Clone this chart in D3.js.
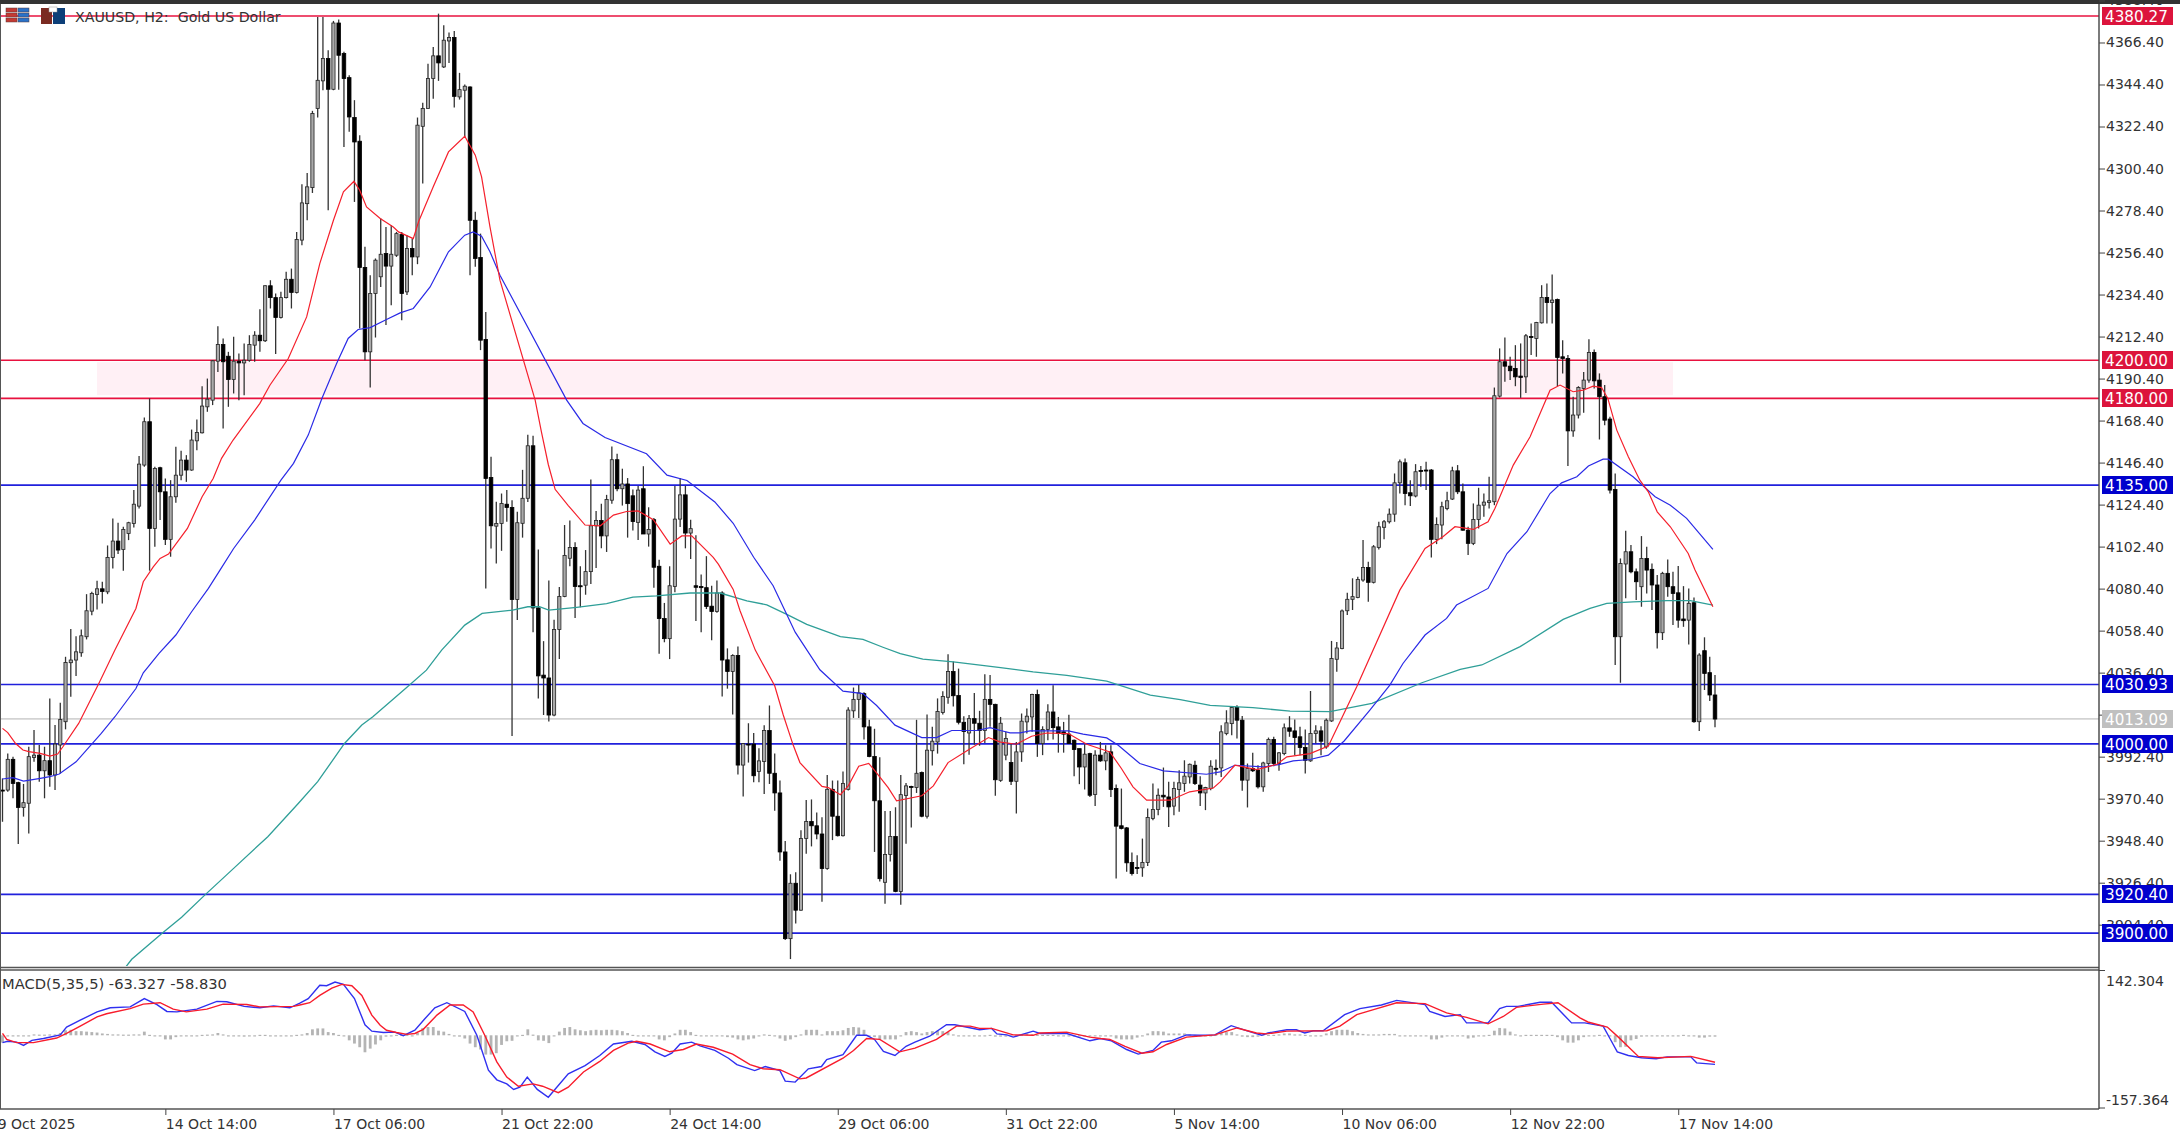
<!DOCTYPE html>
<html><head><meta charset="utf-8">
<script src="https://cdn.jsdelivr.net/npm/d3@7/dist/d3.min.js"></script>
<style>
html,body{margin:0;padding:0;background:#fff}
svg{display:block}
text{font-family:"DejaVu Sans",sans-serif;font-size:14px;fill:#333}
</style></head><body>
<svg id="c" width="2180" height="1139"></svg>
<script>
const symbolTitle="XAUUSD, H2:  Gold US Dollar";
const macdTitle="MACD(5,35,5) -63.327 -58.830";

const opens=[
3974.9,3974.9,3991.0,3978.8,3965.8,3968.0,3992.0,3993.2,3985.0,3990.3,
3982.8,3998.5,4010.7,4041.6,4043.0,4046.8,4055.2,4068.6,4077.3,4080.3,
4078.7,4096.7,4105.3,4100.9,4109.3,4114.5,4123.6,4145.1,4167.8,4111.9,
4143.7,4131.1,4106.2,4128.5,4139.8,4147.7,4142.5,4157.8,4162.0,4175.6,
4179.1,4199.5,4208.2,4202.1,4189.9,4199.5,4198.6,4200.0,4207.9,4213.1,
4210.2,4239.0,4232.8,4222.4,4232.8,4242.4,4235.5,4262.9,4282.0,4290.4,
4331.8,4346.3,4358.0,4341.9,4376.6,4360.6,4348.0,4327.1,4314.7,4248.6,
4204.4,4234.9,4243.7,4255.9,4249.3,4255.0,4265.8,4235.8,4258.5,4254.1,
4322.5,4331.8,4347.5,4359.4,4353.6,4367.2,4369.0,4337.9,4341.4,4343.1,
4273.3,4253.8,4210.9,4138.6,4113.1,4114.5,4124.6,4122.9,4074.7,4114.6,
4127.7,4155.2,4070.3,4035.1,4033.6,4014.2,4059.0,4076.3,4096.3,4101.9,
4081.9,4082.2,4089.3,4113.3,4116.1,4108.0,4126.7,4147.9,4132.7,4135.2,
4129.0,4115.1,4132.7,4109.0,4116.5,4092.1,4064.7,4054.2,4081.5,4116.8,
4129.5,4109.5,4081.9,4081.5,4080.9,4071.2,4068.4,4078.1,4043.1,4037.0,
4045.4,3988.0,3999.0,3999.0,3984.6,3989.9,4006.1,3983.7,3973.4,3942.5,
3897.1,3926.1,3912.0,3949.5,3958.4,3956.2,3951.9,3933.8,3975.3,3961.2,
3951.0,3975.3,4016.4,4022.4,4025.4,4008.0,3992.5,3969.3,3926.6,3941.2,
3950.6,3921.8,3972.1,3976.8,3976.2,3984.1,3961.2,3995.5,4000.1,4015.5,
4023.5,4037.0,4024.4,4010.4,4004.8,4012.3,4009.9,4006.1,4022.4,4019.8,
3980.0,3993.2,3989.3,3979.5,3994.9,4010.6,4013.2,4024.9,3999.3,4006.6,
4015.8,4008.0,4005.4,4004.2,4001.0,3996.6,3987.0,3994.0,3972.6,3993.2,
3990.2,3994.9,3975.7,3956.2,3955.1,3937.0,3934.4,3934.2,3937.0,3960.0,
3964.7,3972.2,3971.3,3966.5,3975.2,3978.3,3981.8,3987.9,3977.5,3973.4,
3975.7,3986.3,3986.5,4004.5,4009.7,4018.1,4011.5,3980.1,3986.2,3985.3,
3976.6,3988.8,4001.4,3988.8,3994.0,4007.5,4005.9,4002.8,3997.2,3990.2,
4004.5,4005.9,3997.5,4011.1,4043.4,4049.0,4068.8,4074.8,4075.8,4084.9,
4091.5,4083.7,4102.0,4112.5,4115.4,4119.4,4135.8,4146.3,4130.6,4128.9,
4142.3,4142.5,4142.5,4106.2,4113.7,4122.4,4127.3,4142.1,4131.1,4111.0,
4104.1,4116.6,4124.1,4125.5,4125.9,4181.2,4199.2,4196.9,4195.7,4191.7,
4191.3,4212.4,4211.4,4219.6,4232.9,4230.2,4231.8,4201.8,4200.9,4163.0,
4171.3,4185.2,4189.6,4204.1,4189.6,4180.9,4169.2,4132.3,4055.2,4093.3,
4099.7,4089.2,4081.4,4096.2,4090.5,4082.3,4057.3,4088.4,4081.4,4078.2,
4064.5,4063.9,4073.0,4010.7,4047.9,4036.4,4024.7];
const highs=[
3981.0,3994.1,3992.4,3979.3,3978.1,3997.6,4006.3,3998.5,3997.6,4022.9,
4009.0,4020.6,4044.7,4059.2,4055.5,4059.0,4077.5,4078.7,4084.5,4084.0,
4103.0,4117.1,4114.9,4112.8,4115.4,4132.0,4149.8,4170.0,4180.0,4144.2,
4144.2,4138.1,4137.2,4154.7,4152.6,4150.3,4163.7,4169.0,4186.4,4190.4,
4200.0,4217.8,4211.4,4204.4,4212.3,4203.5,4208.8,4213.1,4215.2,4226.7,
4239.3,4241.9,4234.9,4235.8,4246.3,4248.0,4267.2,4292.2,4298.1,4330.6,
4379.8,4379.8,4362.3,4377.7,4378.4,4361.5,4349.2,4336.2,4317.8,4259.4,
4244.5,4253.3,4274.2,4269.8,4270.7,4267.2,4267.2,4265.5,4263.7,4327.1,
4334.8,4355.3,4364.1,4381.5,4375.4,4371.6,4372.4,4350.5,4344.4,4343.5,
4277.7,4266.3,4225.3,4149.4,4125.9,4130.2,4132.0,4126.7,4120.6,4142.6,
4161.0,4160.4,4100.9,4052.9,4084.7,4064.1,4081.3,4113.7,4116.1,4104.7,
4092.1,4100.6,4137.6,4121.1,4124.9,4129.5,4154.8,4151.0,4143.2,4138.3,
4132.3,4134.2,4144.5,4123.0,4117.4,4095.5,4072.9,4092.1,4134.2,4138.3,
4134.2,4116.5,4108.4,4087.8,4097.4,4081.9,4084.7,4079.0,4049.1,4046.0,
4050.1,3999.6,4009.9,4004.8,3996.8,4008.9,4019.2,3994.0,3979.9,3948.2,
3930.8,3931.9,3953.8,3969.7,3970.0,3963.1,3960.7,3982.8,3979.9,3979.9,
3984.6,4018.3,4028.6,4029.9,4026.1,4011.7,4007.0,3992.1,3964.0,3964.0,
3965.9,3982.8,3978.6,3977.1,4011.7,3984.6,4014.5,4008.0,4022.9,4026.7,
4046.0,4042.2,4038.5,4013.6,4014.2,4025.8,4016.4,4035.5,4035.1,4020.1,
4013.2,4005.4,3999.6,4000.1,4015.0,4017.6,4025.4,4027.5,4008.3,4019.9,
4029.8,4013.2,4010.6,4014.4,4001.4,3996.6,3998.9,3994.4,3995.8,4000.1,
3998.4,3998.4,3977.8,3975.7,3955.6,3942.2,3940.8,3949.5,3965.2,3978.3,
3975.7,3986.7,3979.2,3979.2,3985.3,3990.5,3988.8,3990.2,3982.2,3976.6,
3990.5,3990.9,4008.9,4016.7,4018.8,4019.3,4013.7,3988.8,3994.4,3987.9,
3989.7,4002.4,4002.8,3994.9,4009.7,4013.6,4011.8,4008.0,4006.6,4026.8,
4008.9,4008.3,4012.4,4053.0,4052.5,4069.4,4078.2,4085.8,4086.6,4105.8,
4094.5,4103.2,4115.4,4116.3,4122.4,4140.7,4148.0,4148.6,4137.2,4145.6,
4144.6,4146.8,4143.0,4117.7,4125.9,4131.1,4144.2,4145.1,4135.5,4112.8,
4125.0,4133.2,4130.2,4139.0,4185.7,4206.2,4211.9,4201.8,4207.9,4208.8,
4213.7,4219.2,4220.1,4239.3,4240.2,4244.9,4232.3,4210.5,4202.7,4180.9,
4186.4,4193.9,4211.0,4205.6,4193.1,4187.0,4170.4,4140.7,4096.2,4110.7,
4103.2,4091.0,4107.9,4102.3,4093.6,4087.5,4089.2,4095.7,4089.2,4092.2,
4081.7,4080.5,4075.8,4046.5,4054.9,4044.7,4035.1];
const lows=[
3958.3,3974.0,3970.6,3946.6,3961.0,3952.2,3989.7,3979.3,3970.6,3976.7,
3974.9,3983.6,4006.7,4023.8,4034.6,4044.7,4053.8,4066.5,4069.5,4072.6,
4077.5,4091.0,4098.5,4089.7,4105.8,4112.4,4122.4,4144.2,4089.8,4102.3,
4116.3,4103.2,4097.1,4125.4,4137.2,4136.3,4142.1,4152.9,4161.6,4173.0,
4176.5,4193.9,4164.3,4175.6,4182.6,4179.1,4181.7,4199.2,4199.2,4204.4,
4209.6,4227.1,4203.2,4221.9,4232.3,4227.1,4235.0,4260.2,4273.3,4287.6,
4327.1,4341.4,4278.6,4341.4,4341.7,4311.7,4319.6,4282.9,4216.6,4200.0,
4185.7,4211.9,4238.4,4218.4,4228.8,4254.1,4221.0,4234.1,4244.5,4250.3,
4292.5,4331.8,4337.0,4346.3,4353.1,4355.7,4332.3,4336.5,4317.0,4244.5,
4248.9,4205.3,4080.5,4101.4,4093.6,4100.2,4115.4,4003.2,4063.9,4107.1,
4125.8,4057.6,4022.9,4014.2,4010.8,4013.6,4043.5,4075.9,4092.1,4065.0,
4070.6,4077.2,4082.8,4091.2,4101.5,4099.6,4124.9,4131.4,4123.9,4107.1,
4110.8,4105.8,4109.0,4102.4,4080.9,4046.3,4052.3,4043.5,4078.5,4112.7,
4101.5,4095.9,4063.5,4057.6,4069.7,4053.4,4067.8,4023.9,4028.0,4014.5,
3983.1,3971.5,3989.3,3979.0,3979.0,3972.8,3978.1,3964.1,3937.9,3896.4,
3886.4,3905.0,3911.7,3941.6,3945.4,3949.1,3916.4,3933.2,3948.7,3950.6,
3950.6,3974.7,4012.7,4012.7,4001.4,3992.1,3942.5,3927.0,3915.4,3937.5,
3921.4,3914.9,3946.8,3955.3,3973.4,3960.7,3960.0,3987.8,3994.0,4014.5,
4020.1,4018.7,4009.3,3988.4,3993.4,3998.6,3998.1,3999.6,4008.0,3971.9,
3979.2,3990.5,3977.5,3962.6,3989.7,4004.5,4005.4,3992.3,3993.2,4001.0,
4001.4,3994.5,3994.5,3999.3,3982.2,3978.0,3975.2,3971.3,3966.5,3989.7,
3985.3,3971.3,3928.6,3954.3,3932.1,3930.2,3930.9,3929.5,3935.2,3959.1,
3961.7,3966.1,3955.6,3961.7,3963.5,3974.0,3978.3,3977.5,3966.5,3964.4,
3974.8,3982.7,3981.8,4003.6,4003.6,4001.9,3974.5,3965.8,3984.4,3975.7,
3974.0,3984.4,3987.4,3985.0,3993.2,4002.8,3993.2,3993.2,3983.6,3989.7,
3999.3,3993.2,3996.6,4010.6,4036.8,4048.6,4066.6,4069.2,4075.3,4084.0,
4073.5,4083.1,4100.9,4106.2,4114.5,4115.4,4130.2,4124.1,4123.6,4128.2,
4133.7,4132.0,4096.7,4103.7,4106.2,4121.5,4126.8,4129.9,4110.7,4098.0,
4103.2,4111.9,4118.0,4122.4,4124.1,4180.5,4188.7,4189.6,4186.4,4180.3,
4182.9,4202.7,4201.8,4219.2,4219.2,4219.2,4186.4,4193.1,4144.6,4159.9,
4169.5,4172.5,4188.2,4185.2,4158.5,4166.0,4130.2,4040.4,4031.1,4075.3,
4088.4,4074.4,4070.9,4077.9,4069.2,4049.1,4053.5,4076.2,4061.3,4059.9,
4060.4,4051.2,4010.2,4005.8,4027.3,4021.5,4007.8];
const closes=[
3974.6,3991.0,3978.4,3965.8,3968.3,3992.4,3993.2,3985.0,3990.3,3982.8,
3999.0,4011.9,4041.7,4043.0,4047.3,4055.7,4068.8,4077.9,4080.3,4078.9,
4096.7,4105.3,4100.6,4111.4,4114.9,4124.6,4145.6,4167.8,4111.9,4143.3,
4131.1,4106.2,4128.5,4139.8,4147.7,4142.5,4158.2,4162.2,4176.0,4179.6,
4199.7,4208.2,4199.2,4189.9,4199.5,4198.6,4200.0,4208.2,4213.1,4210.2,
4239.0,4232.8,4222.4,4232.8,4242.4,4235.5,4263.2,4282.4,4290.8,4329.2,
4346.6,4358.0,4341.9,4376.6,4359.7,4347.5,4327.4,4314.3,4248.6,4204.4,
4234.9,4252.4,4255.5,4249.3,4255.5,4266.3,4234.9,4258.5,4254.1,4323.1,
4331.8,4347.5,4359.4,4355.7,4367.6,4369.0,4338.2,4341.7,4343.5,4273.3,
4253.3,4210.5,4138.1,4113.3,4114.5,4125.0,4122.9,4074.7,4114.9,4127.7,
4155.2,4070.3,4034.7,4033.6,4014.2,4059.0,4076.3,4097.8,4101.9,4081.5,
4081.5,4089.3,4113.3,4116.1,4108.0,4127.1,4147.9,4132.7,4135.2,4124.9,
4115.5,4132.0,4109.0,4111.4,4091.6,4064.7,4054.2,4081.9,4116.8,4129.5,
4109.5,4111.8,4081.1,4080.9,4071.0,4068.4,4078.1,4043.0,4037.0,4045.4,
3988.0,3999.2,3998.7,3982.4,3990.2,4006.1,3983.7,3973.4,3942.5,3897.1,
3926.1,3912.0,3949.5,3958.4,3956.2,3951.9,3933.8,3975.3,3961.2,3951.0,
3978.4,4016.8,4022.4,4025.8,4008.0,3992.5,3969.3,3928.5,3941.2,3950.6,
3921.8,3972.5,3977.1,3976.6,3983.7,3961.2,3995.8,4000.5,4016.0,4023.9,
4037.0,4024.3,4010.4,4005.6,4012.3,4009.9,4006.1,4022.4,4019.8,3980.3,
4009.9,4001.9,3979.5,3994.9,4011.0,4013.6,4024.9,3999.3,4006.6,4015.8,
4007.6,4004.5,4004.2,3999.3,3996.1,3987.0,3993.7,3972.2,3993.2,3990.2,
3994.4,3975.2,3956.0,3954.8,3936.8,3931.2,3933.8,3937.0,3960.5,3964.7,
3972.2,3971.3,3966.1,3975.7,3978.7,3982.2,3988.4,3978.3,3973.4,3976.2,
3987.4,3986.0,4005.4,4010.1,4018.1,4011.5,3980.1,3986.2,3985.0,3976.6,
3989.1,4001.4,3988.8,3994.4,4007.5,4005.7,4002.4,3997.2,3990.5,4004.5,
4005.9,4000.5,4011.5,4043.8,4049.3,4068.7,4074.8,4076.2,4085.2,4091.5,
4083.7,4102.3,4112.8,4115.4,4119.4,4135.8,4146.8,4130.2,4129.0,4141.6,
4141.8,4142.3,4106.2,4114.0,4123.3,4126.4,4142.1,4131.1,4111.0,4104.1,
4116.6,4124.1,4125.7,4126.4,4181.4,4199.2,4196.9,4194.5,4191.3,4191.0,
4212.8,4211.9,4219.8,4232.9,4230.2,4231.5,4201.4,4200.9,4163.0,4171.3,
4185.7,4189.6,4204.1,4189.2,4180.9,4168.6,4132.0,4055.2,4093.6,4099.7,
4089.2,4084.0,4096.2,4090.1,4082.3,4057.3,4088.4,4081.4,4077.9,4063.9,
4063.6,4072.7,4010.7,4045.6,4036.0,4024.7,4012.1];

const redIdx=[0,1,2.5,3.9,5,7.2,9,10.5,11.5,14.5,18.5,21.4,25.4,26.8,28.7,30,31.6,35.2,38,40.1,41.7,43.9,49,50.9,54.4,57.9,60.4,63,64.9,66.9,68,69.3,71.9,74.4,75.4,78.2,79.2,82,84.9,88,90,91.2,92.8,94.7,101.4,102.6,103.9,105.2,107.7,110.9,113.8,116.3,118.8,121,123.9,127.1,129.3,131.2,135.3,136.3,139.1,140.4,143.3,147,148.6,150.5,151.8,156,157.2,159.5,161,163,164.9,166.2,168.6,170.2,175,177.2,180,183.6,187.7,190,193,195.9,198.8,202.9,206.4,210.8,213,215.2,217.8,222.3,226,230.5,231.8,234.6,238.8,242.6,244.5,248.9,252.4,257.8,266,270.8,274.2,276.5,280,282.8,284.1,287.6,290.8,294.6,296.5,299,300.9,302.8,304.4,305.6,307.3,309.5,311.7,313.3,315,317.5,320.9,322.2,325.6];
const redVal=[4007.2,4005,3999.3,3995.9,3995,3994.1,3992.7,3993.8,3997.6,4009.8,4031.6,4048.2,4070,4084,4091.8,4096.2,4098.5,4111.9,4128.5,4138.1,4148.6,4158.2,4177.4,4186.9,4200.9,4222.7,4250.6,4273.3,4288.2,4293.7,4289,4280.3,4274.2,4269.8,4267.2,4263.7,4272.5,4290.8,4309.1,4317.3,4307.4,4296,4269.8,4241.9,4179.1,4162.3,4145.4,4132.4,4123.9,4113.7,4113.3,4118.9,4120.8,4121.1,4116.5,4103.7,4108,4108,4096.8,4093.1,4080,4068.8,4048.2,4029.5,4014.5,3998.6,3989.3,3976.8,3976.2,3972.5,3977.1,3987.4,3988.9,3984.6,3976.2,3969.3,3971.9,3977.1,3989.3,3995.5,4002.4,4000,3998.9,4003.1,4004.8,4004.5,3998.9,3994.9,3986.2,3976.6,3969.6,3969.6,3974,3976,3979.2,3987.9,3985.6,3988.4,3992.3,3994,3998,4029,4079.6,4101.4,4107.6,4112.8,4111.4,4115.4,4122.4,4145.1,4159.9,4184.3,4187,4183.5,4184.3,4186.4,4185.7,4180,4163.4,4149.4,4137.2,4131.1,4120.6,4112.8,4098.8,4090.1,4070.9];

const blueIdx=[0,2,4,7.2,9,10.8,14,18.8,21.4,25.4,26.8,29.8,33,36,39.2,41.4,44,48,53,55.4,58.2,60.8,63.6,65.8,67.7,70,73.1,75.7,78.2,81.4,84.9,88,89.6,91.2,92.8,94.7,107.4,110.5,114.7,122.6,126.5,130.3,135.6,139.1,143,146.7,149.3,150.9,155.6,160,163.8,166.4,169.9,175,177.8,180.7,185.5,188,190,191.8,193.7,195.6,202.9,205.7,210.2,212.4,216.5,221,229.2,231.8,234.6,240,243.2,245.7,248.9,252.4,255.4,260.3,264.1,266.6,270.8,274.9,276.8,282.8,286.4,290.2,294.6,296.8,299.7,301.9,304.7,305.7,310.4,314.6,317.5,320.6,325.6];
const blueVal=[3980.7,3981.4,3979.6,3981,3981.9,3983.3,3989.7,4004.6,4013.3,4028.1,4036.3,4046.5,4056.1,4068.3,4080.5,4090.1,4101.4,4116.3,4137.2,4146,4160.8,4180,4198.3,4211.4,4216.1,4217.1,4221.3,4224.8,4227.1,4238.4,4256.8,4265.5,4267.2,4265,4256.8,4244.5,4179.1,4166.9,4159.5,4151,4139.8,4137,4125.8,4114.6,4096.8,4081.9,4066.9,4057.6,4037.9,4026.7,4025.4,4019.2,4008.9,4002.4,4002.4,4006.1,4006.1,4007.6,4006.1,4004.9,4004.9,4005.9,4005.9,4004.2,4002.2,3998.4,3988.8,3985,3983.2,3984.4,3987.9,3987,3988.4,3990.2,3990.9,3993.2,4000.6,4016.8,4029.9,4041.2,4056.1,4064.8,4071.8,4080.5,4098.8,4110.2,4130.2,4135.8,4139,4144.6,4148.2,4148.2,4139,4128.5,4124.1,4117.2,4100.9];

const tealIdx=[23.5,24.6,30.5,34.1,38.5,44,50.5,56.3,60,65.1,68.4,70.5,77.1,80.7,83.6,88,91.3,97.1,100,102.2,104,109.3,115,120,124.5,130.9,136.6,141.7,145.5,149.3,153.1,159.5,163.8,167.6,170.9,175.2,181,186.1,190,196.2,202.6,210.2,218.5,224.2,229.9,238,245.1,252.7,260.7,270.2,277.5,281.6,288.9,297.1,302.2,305.4,310.4,316.8,321.3,325.6];
const tealVal=[3882.4,3886.3,3900.2,3908.3,3919.9,3933.9,3950.5,3967.9,3979.3,3999.3,4009,4013.3,4029,4037.7,4048.2,4061.3,4067.4,4069.1,4070.9,4070.9,4069.1,4070.6,4072.5,4075.9,4076.6,4078.1,4078.1,4074,4071.9,4066.9,4061.7,4055.3,4053.8,4049.7,4046.3,4043.5,4042,4040.3,4039,4036.8,4035,4031.9,4024.6,4022.3,4019.3,4018.1,4016.2,4016,4020.3,4031.1,4038.1,4040.4,4050,4064.3,4070,4072.7,4073.5,4074.1,4074.1,4071.8];

const macdIdx=[0,1,2.7,4,5.6,7.8,11,12.2,14.8,18,20.5,24.3,27,29.4,31.3,33.2,37,40.8,42.7,46,49,51.6,54.7,56.6,58.2,60.4,61.7,63.3,64.9,67,69,70.3,72.5,74.7,76.3,78.5,80.4,82.3,84.6,88,90.3,92.5,94.1,96,97.3,98.5,99.9,101.8,103.9,107.7,110.9,113.7,116.3,119.8,122.3,124.2,126.1,127.4,129,131.2,132.8,135.6,138.2,139.8,143.2,145.2,148,149,150.9,153.4,155.9,156.9,160,162.6,164.5,166,167.7,169.9,172,173.7,176.5,179.7,181.3,186,188.3,189.3,191.2,192.4,196.2,197.5,202.6,207,209,211.1,214,216.2,219,220.6,222.5,225.4,227.9,230.8,233.9,236.8,239.7,240.9,244.5,246.3,247.9,249.5,251.4,255.5,258.4,262.5,265.4,270.8,271.7,274.6,277.5,278.7,282.8,285,286.3,288.5,292.7,294.9,298.7,301.2,304.7,306,307.4,309.5,312,314.8,316.9,321.4,322.5,326];
const macdVal=[-16,-13,-15,-22,-11,-7,1,18,33,51,60,62,80,67,52,51,57,74,73,63,60,64,60,70,80,109,108,116,111,80,23,9,6,7,-1,11,36,60,71,52,0,-76,-97,-106,-118,-113,-91,-118,-135,-84,-66,-44,-19,-13,-20,-36,-46,-39,-19,-15,-23,-33,-50,-64,-77,-68,-77,-100,-102,-73,-68,-53,-42,0,0,-9,-35,-44,-24,-15,-2,23,23,12,15,3,1,-4,9,4,4,-12,-7,-12,-31,-41,-33,-15,-12,1,0,1,21,10,0,5,12,12,5,10,10,45,58,66,76,67,52,41,45,27,27,58,63,63,72,72,27,27,20,-7,-36,-44,-49,-51,-47,-47,-60,-63.3];

const signalIdx=[0,0.8,2.7,5.9,10.3,12.2,14.8,18,19.8,24.3,26.8,30,32.5,35,38.9,42,46.5,49,55.4,56.6,58.5,60.4,62.7,64.6,66.5,68.4,70.3,71.9,73.1,75,77,78.5,80.1,82.7,85.2,87.7,89.6,91.8,94.1,96,98.2,101,102.8,105.8,107.7,110.6,113.7,116.3,119.1,120.7,123.3,127,129.6,132.1,135.3,139,142.3,144.8,148,151.8,153,160,162,164.5,167,170.8,173.7,177.8,181.6,184.2,186,188.3,192.4,196.2,197.5,202.6,207,209,210.8,213.7,216.9,219,221.6,225.4,230.8,235,238.7,240.6,244.5,252.1,254.6,257.8,261,265.4,270.8,274.9,278.7,282.8,285.7,288.2,293.3,296.1,300.3,301.8,305.5,307.6,311.4,315.1,321.4,326];
const signalVal=[4,-9,-16,-16,-6,4,20,40,47,58,68,71,57,51,57,68,67,62,63,66,71,87,103,111,108,87,44,22,11,6,2,4,13,44,66,66,51,0,-58,-91,-111,-106,-111,-125,-113,-80,-57,-33,-17,-13,-19,-36,-31,-19,-26,-41,-64,-73,-75,-95,-93,-50,-33,-7,-9,-36,-28,-9,20,20,15,15,1,0,5,7,-4,-7,-9,-24,-39,-36,-20,-4,1,16,5,3,9,10,20,45,56,71,69,49,39,25,41,61,68,71,38,29,18,-4,-46,-49,-46,-58.8];

const histVal=[
-16,-1,-1,-1,-1,-1,2,1.5,1.5,2,
2,5,11,12,9,9,8,7,6,4,
3,2,2,1.5,1.5,2,2,8,1,-1,
-2,-9,-9,-4,-2,-1,-1,0,1,1.5,
2,5,2,0,-1.5,-2,-3,-2,-1,1,
1,0,0,-1,-1,-1,1,2,5,13,
15,15,7,5,1,-1.5,-11,-18,-26,-37,
-29,-20,-11,-3,0,1,1,1,-1,5,
16,18,18,10,8,3,0,-3,-7,-18,
-26,-31,-42,-42,-39,-21,-13,-12,-1,1,
13,1.5,-11,-12,-17,-1,8,16,18,13,
11,9,11,12,11,12,12,11,9,5,
1,0,0,-1,-1.5,-9,-11,-4,4,12,
12,7,1,-1.5,-2,-2,-2,-2,-4,-5,
-9,-11,-9,-7,-1.5,2,1,0,-7,-12,
-9,-4,2,12,12,12,2,9,9,9,
11,16,18,17,12,0,-4,-9,-9,-9,
-9,0,7,9,7,4,7,9,10,9,
7,2,0,-1.5,-1.5,-1.5,-1.5,0,1,-3,
-3,-3,-3,0,1,4,2,1,1,1,
1,0,0,0,-1,-2,-2,-3,-2,-1.5,
-1,-1,-7,-9,-9,-9,-5,0,4,9,
9,8,4,4,4,4,2,1,0,-1,
0,1,5,7,7,2,-3,-4,-4,-3,
2,1,1,2,4,4,2,2,1,0,
0,0,4,9,12,12,12,9,5,3,
2,2,2,3,3,3,0,0,0,0,
0,-1,-9,-9,-5,-1.5,0,0,-1,-7,
-5,-2,0,1,10,16,15,8,2,0,
1,1,1,1,1,1,-4,-11,-16,-16,
-11,-4,-1,0,1,-1,-1,-15,-26,-25,
-11,-8,-3,-1,-1,0,0,-1,0,0,
1,-1,-1,-5,-5,-3,-3];

const priceTicks=[4388.4,4366.4,4344.4,4322.4,4300.4,4278.4,4256.4,4234.4,4212.4,4190.4,4168.4,4146.4,4124.4,4102.4,4080.4,4058.4,4036.4,4014.4,3992.4,3970.4,3948.4,3926.4,3904.4];
const macdTicks=[142.304,-157.364];
const timeTickBars=[-1,31,63,95,127,159,191,223,255,287,319];
const timeTickLabels=["9 Oct 2025","14 Oct 14:00","17 Oct 06:00","21 Oct 22:00","24 Oct 14:00","29 Oct 06:00","31 Oct 22:00","5 Nov 14:00","10 Nov 06:00","12 Nov 22:00","17 Nov 14:00"];

const levelLabels=["4380.27","4200.00","4180.00","4135.00","4030.93","4013.09","4000.00","3920.40","3900.00"];
const levelPrices=[4380.27,4200,4180,4134.6,4030.2,4012.2,3999.1,3920.3,3900];
const levelKinds=["red","red","red","blue","blue","gray","blue","blue","blue"];
const zoneBars=[18,318];
const zonePrices=[4199,4181.7];

const W=2180,H=1139,axisX=2099;
const svg=d3.select("#c");
const x=d3.scaleLinear().domain([0,326]).range([2.5,1715]);
const y=d3.scaleLinear().domain([3900,4380.27]).range([933.1,16]);
const ym=d3.scaleLinear().domain([-157.364,142.304]).range([1107.5,970]);

const defs=svg.append("defs");
defs.append("clipPath").attr("id","mainClip").append("rect").attr("x",1).attr("y",4).attr("width",axisX-1).attr("height",962);
defs.append("clipPath").attr("id","macdClip").append("rect").attr("x",1).attr("y",971).attr("width",axisX-1).attr("height",137);

const kindColor={red:"#dc143c",blue:"#0000cd",gray:"#c0c0c0"};
const lineColor={red:"#e8123f",blue:"#2020dc",gray:"#d3d3d3"};

const main=svg.append("g").attr("clip-path","url(#mainClip)");
main.append("rect").attr("x",x(zoneBars[0])).attr("y",y(zonePrices[0]))
  .attr("width",x(zoneBars[1])-x(zoneBars[0])).attr("height",y(zonePrices[1])-y(zonePrices[0])).attr("fill","#fff0f5");
main.selectAll("line.lvl").data(levelPrices).join("line").attr("class","lvl")
  .attr("x1",0).attr("x2",axisX).attr("y1",d=>y(d)).attr("y2",d=>y(d))
  .attr("stroke",(d,i)=>lineColor[levelKinds[i]]).attr("stroke-width",1.7);

/* title and icons sit on the chart background */
const icon=svg.append("g");
[[6,"#c33a33"],[18,"#2a72c8"]].forEach(([ix,c])=>{
  [8,13,18].forEach(iy=>icon.append("rect").attr("x",ix).attr("y",iy).attr("width",11).attr("height",4).attr("fill",c).attr("stroke","#5a3a3a").attr("stroke-width",.5));
});
icon.append("rect").attr("x",41).attr("y",8).attr("width",11).attr("height",16).attr("fill","#7a2a22");
icon.append("rect").attr("x",53).attr("y",8).attr("width",12).attr("height",16).attr("fill","#0d3f78");
icon.append("rect").attr("x",49).attr("y",7).attr("width",8).attr("height",5).attr("fill","#fff").attr("stroke","#999").attr("stroke-width",.5);
svg.append("text").attr("x",75).attr("y",22).text(symbolTitle).style("white-space","pre").style("font-size","14.2px");

const bars=d3.range(opens.length);
const candles=svg.append("g").attr("clip-path","url(#mainClip)");
candles.selectAll("line.w").data(bars).join("line").attr("class","w")
  .attr("x1",i=>x(i)).attr("x2",i=>x(i)).attr("y1",i=>y(highs[i])).attr("y2",i=>y(lows[i]))
  .attr("stroke","#333").attr("stroke-width",1.3);
candles.selectAll("rect.b").data(bars).join("rect").attr("class","b")
  .attr("x",i=>x(i)-(closes[i]>=opens[i]?1.6:1.8)).attr("width",i=>closes[i]>=opens[i]?3.2:3.6)
  .attr("y",i=>y(Math.max(opens[i],closes[i])))
  .attr("height",i=>Math.max(1,Math.abs(y(opens[i])-y(closes[i]))))
  .attr("fill",i=>closes[i]>=opens[i]?"#aaa":"#000")
  .attr("stroke",i=>closes[i]>=opens[i]?"#222":"#000").attr("stroke-width",.8);

const path=(xs,vs,sc)=>d3.line().x(d=>x(d[0])).y(d=>sc(d[1]))(xs.map((v,i)=>[v,vs[i]]));
const mas=svg.append("g").attr("clip-path","url(#mainClip)").attr("fill","none");
mas.append("path").attr("d",path(tealIdx,tealVal,y)).attr("stroke","#2f9f98").attr("stroke-width",1.3);
mas.append("path").attr("d",path(blueIdx,blueVal,y)).attr("stroke","#2a2ae6").attr("stroke-width",1.2);
mas.append("path").attr("d",path(redIdx,redVal,y)).attr("stroke","#f5202c").attr("stroke-width",1.2);

/* MACD panel */
const macd=svg.append("g").attr("clip-path","url(#macdClip)");
macd.selectAll("rect").data(bars).join("rect")
  .attr("x",i=>x(i)-1.4).attr("width",2.8)
  .attr("y",i=>Math.min(ym(0),ym(histVal[i])))
  .attr("height",i=>Math.max(1.2,Math.abs(ym(histVal[i])-ym(0))))
  .attr("fill","#b4b4b4");
macd.append("path").attr("fill","none").attr("d",path(macdIdx,macdVal,ym)).attr("stroke","#3030f0").attr("stroke-width",1.4);
macd.append("path").attr("fill","none").attr("d",path(signalIdx,signalVal,ym)).attr("stroke","#f81c2c").attr("stroke-width",1.4);
svg.append("text").attr("x",2).attr("y",989).text(macdTitle).style("font-size","14.7px");

/* Frames */
svg.append("rect").attr("x",0).attr("y",0).attr("width",W).attr("height",4).attr("fill","#333");
svg.append("rect").attr("x",0).attr("y",4).attr("width",1).attr("height",1105).attr("fill","#555");
[[0,axisX,967.5],[0,axisX,970],[0,axisX,1109]].forEach(([a,b,yy])=>svg.append("line").attr("x1",a).attr("x2",b).attr("y1",yy).attr("y2",yy).attr("stroke","#555").attr("stroke-width",1.4));

/* Price axis */
const pa=svg.append("g").attr("transform",`translate(${axisX},0)`)
  .call(d3.axisRight(y).tickValues(priceTicks).tickSize(6).tickPadding(1).tickFormat(d3.format(".2f")));
pa.select(".domain").attr("d",`M0,4V1109`).attr("stroke","#444").attr("stroke-width",1.4);
pa.selectAll(".tick line").attr("stroke","#444");
pa.selectAll("text").style("font-size","14px").style("font-family",'"DejaVu Sans"').attr("fill","#333");

/* Level tags */
const tags=svg.append("g").selectAll("g").data(levelLabels).join("g")
  .attr("transform",(d,i)=>`translate(2102,${Math.round(y(levelPrices[i]))})`);
tags.append("rect").attr("x",0).attr("y",-9).attr("width",71).attr("height",18)
  .attr("fill",(d,i)=>kindColor[levelKinds[i]]);
tags.append("text").attr("x",3).attr("y",5.5).text(d=>d).style("fill","#fff").style("font-size","15.2px");

/* MACD axis */
const ma=svg.append("g").attr("transform",`translate(${axisX},0)`)
  .call(d3.axisRight(ym).tickValues(macdTicks).tickSize(6).tickPadding(1).tickFormat(d=>d3.format(".3f")(d).replace("\u2212","-")));
ma.select(".domain").remove();
ma.selectAll(".tick line").attr("stroke","#444");
ma.selectAll("text").style("font-size","14px").style("font-family",'"DejaVu Sans"').attr("fill","#333");
ma.selectAll(".tick").filter(d=>d>0).select("text").attr("dy","1.1em");
ma.selectAll(".tick").filter(d=>d<0).select("text").attr("dy","-0.25em");

/* Time axis */
const ta=svg.append("g").attr("transform","translate(0,1109)")
  .call(d3.axisBottom(x).tickValues(timeTickBars).tickSize(6).tickFormat((d,i)=>timeTickLabels[i]));
ta.select(".domain").remove();
ta.selectAll(".tick line").attr("stroke","#444");
ta.selectAll("text").attr("text-anchor","start").attr("y",8).attr("dy","0.85em").style("font-size","14px").style("font-family",'"DejaVu Sans"').attr("fill","#333");
</script>
</body></html>
